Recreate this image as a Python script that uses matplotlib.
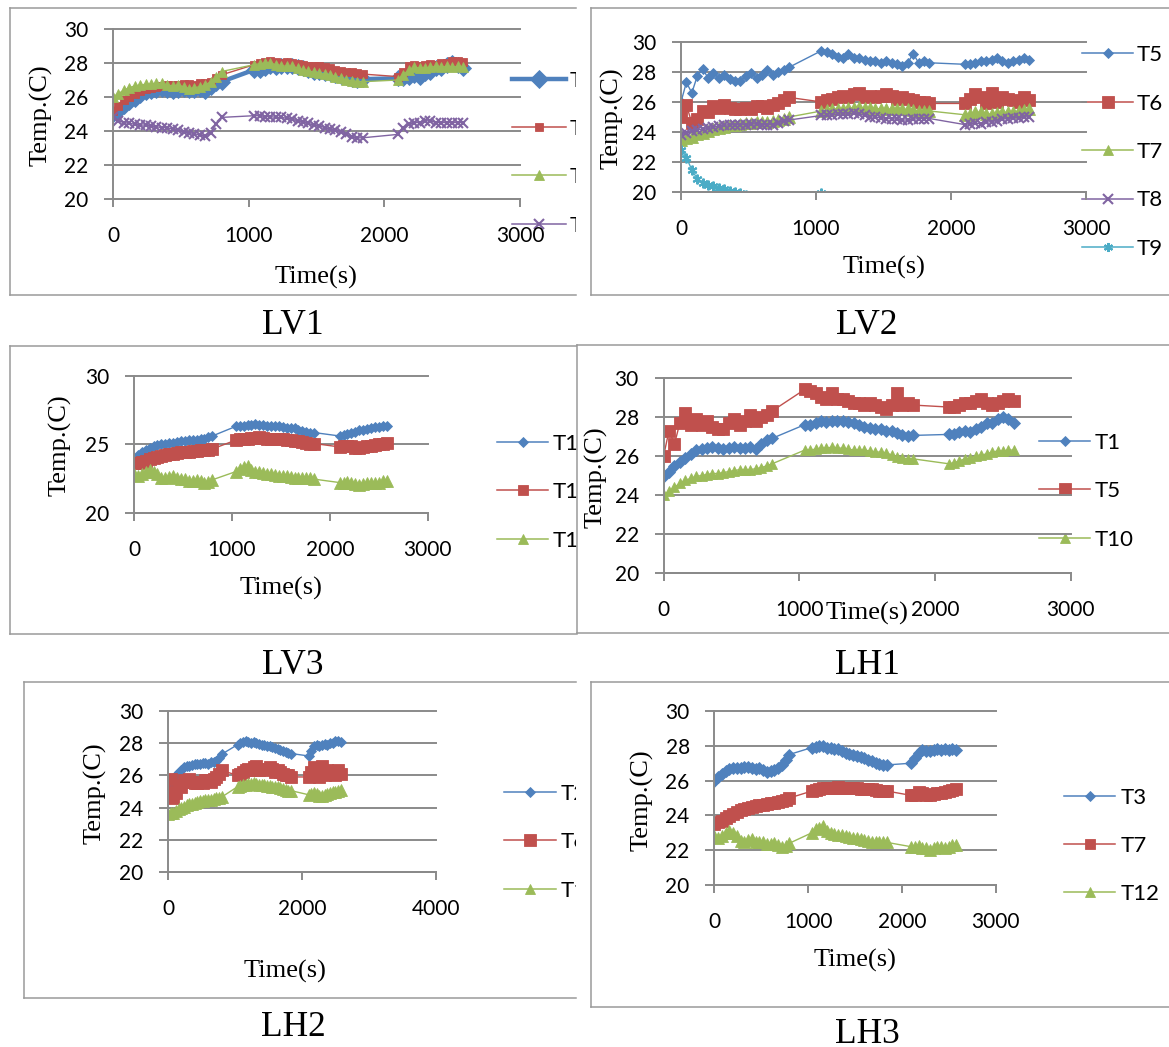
import matplotlib
matplotlib.use("Agg")
import matplotlib.pyplot as plt
from matplotlib.lines import Line2D

W, H = 1169, 1047

# sampling times shared by every sensor log
time_s = [0, 40, 80, 120, 160, 200, 240, 280, 320, 360, 400, 440, 480, 520, 560, 600, 640, 680, 720, 760, 800,
          1040, 1080, 1120, 1160, 1200, 1240, 1280, 1320, 1360, 1400, 1440, 1480, 1520, 1560, 1600, 1640, 1680,
          1720, 1760, 1800, 1840,
          2100, 2140, 2180, 2220, 2260, 2300, 2340, 2380, 2420, 2460, 2500, 2540, 2580]

T1 = [25.0, 25.2, 25.5, 25.7, 25.9, 26.1, 26.3, 26.35, 26.4, 26.45, 26.4, 26.35, 26.4, 26.45, 26.4, 26.4, 26.45, 26.35, 26.6, 26.8, 26.9,
      27.6, 27.6, 27.7, 27.8, 27.75, 27.8, 27.8, 27.8, 27.75, 27.7, 27.6, 27.5, 27.45, 27.4, 27.4, 27.3, 27.25, 27.15, 27.05, 27.0, 27.05,
      27.1, 27.1, 27.2, 27.3, 27.2, 27.4, 27.5, 27.7, 27.7, 27.9, 28.0, 27.9, 27.7]
T2 = [25.2, 25.5, 25.8, 26.0, 26.2, 26.35, 26.5, 26.55, 26.6, 26.65, 26.7, 26.7, 26.7, 26.75, 26.75, 26.7, 26.8, 26.8, 26.9, 27.1, 27.3,
      27.9, 28.0, 28.05, 28.1, 28.05, 28.0, 28.05, 28.0, 27.95, 27.9, 27.85, 27.8, 27.8, 27.75, 27.7, 27.6, 27.55, 27.5, 27.45, 27.4, 27.35,
      27.2, 27.5, 27.8, 27.9, 27.8, 27.9, 27.95, 27.9, 28.0, 28.0, 28.1, 28.1, 28.05]
T3 = [26.0, 26.2, 26.4, 26.55, 26.65, 26.7, 26.75, 26.75, 26.8, 26.8, 26.7, 26.65, 26.7, 26.6, 26.5, 26.55, 26.6, 26.7, 26.9, 27.2, 27.5,
      27.9, 27.95, 28.0, 28.0, 27.9, 27.85, 27.8, 27.8, 27.7, 27.6, 27.55, 27.45, 27.4, 27.35, 27.3, 27.2, 27.1, 27.0, 26.95, 26.9, 26.9,
      27.0, 27.3, 27.6, 27.75, 27.7, 27.7, 27.75, 27.8, 27.75, 27.8, 27.75, 27.8, 27.75]
T4 = [24.8, 24.6, 24.5, 24.45, 24.4, 24.35, 24.35, 24.3, 24.25, 24.2, 24.2, 24.1, 24.05, 23.95, 23.9, 23.85, 23.75, 23.7, 23.9, 24.4, 24.8,
      24.9, 24.9, 24.85, 24.85, 24.8, 24.8, 24.75, 24.7, 24.6, 24.55, 24.45, 24.35, 24.3, 24.2, 24.1, 24.05, 23.95, 23.8, 23.65, 23.6, 23.6,
      23.8, 24.2, 24.4, 24.5, 24.5, 24.6, 24.6, 24.5, 24.5, 24.5, 24.5, 24.5, 24.5]
T5 = [26.0, 27.3, 26.6, 27.7, 28.2, 27.6, 27.9, 27.6, 27.8, 27.5, 27.4, 27.4, 27.7, 27.9, 27.6, 27.8, 28.1, 27.8, 28.0, 28.1, 28.3,
      29.4, 29.3, 29.2, 29.0, 28.9, 29.2, 28.9, 28.9, 28.8, 28.7, 28.7, 28.6, 28.7, 28.6, 28.5, 28.4, 28.6, 29.2, 28.6, 28.7, 28.6,
      28.5, 28.5, 28.6, 28.7, 28.7, 28.8, 28.9, 28.7, 28.6, 28.7, 28.8, 28.9, 28.8]
T6 = [25.0, 25.8, 24.6, 24.9, 25.4, 25.3, 25.7, 25.6, 25.8, 25.6, 25.5, 25.5, 25.6, 25.5, 25.7, 25.7, 25.6, 25.8, 25.9, 26.1, 26.3,
      26.0, 26.1, 26.2, 26.3, 26.4, 26.3, 26.5, 26.6, 26.3, 26.4, 26.3, 26.4, 26.5, 26.4, 26.2, 26.3, 26.2, 26.1, 26.0, 26.0, 25.9,
      25.9, 26.2, 26.5, 26.3, 25.9, 26.6, 26.0, 26.3, 26.2, 26.1, 26.0, 26.3, 26.1]
T7 = [23.5, 23.6, 23.7, 23.85, 23.95, 24.1, 24.2, 24.3, 24.35, 24.45, 24.5, 24.55, 24.6, 24.6, 24.65, 24.7, 24.7, 24.75, 24.8, 24.9, 25.0,
      25.4, 25.45, 25.5, 25.55, 25.55, 25.6, 25.6, 25.65, 25.6, 25.6, 25.55, 25.55, 25.55, 25.5, 25.5, 25.5, 25.5, 25.45, 25.4, 25.4, 25.4,
      25.15, 25.2, 25.35, 25.3, 25.2, 25.2, 25.25, 25.3, 25.3, 25.35, 25.4, 25.45, 25.5]
T8 = [23.8, 23.95, 24.05, 24.15, 24.2, 24.3, 24.35, 24.4, 24.45, 24.5, 24.5, 24.5, 24.5, 24.55, 24.55, 24.5, 24.5, 24.5, 24.6, 24.75, 24.8,
      25.1, 25.1, 25.15, 25.2, 25.2, 25.2, 25.25, 25.2, 25.1, 25.0, 25.0, 24.95, 24.9, 24.9, 24.85, 24.8, 24.8, 24.85, 24.9, 24.9, 24.9,
      24.5, 24.55, 24.6, 24.55, 24.65, 24.7, 24.75, 24.85, 24.9, 24.95, 24.95, 25.0, 25.0]
T9 = [22.8, 22.3, 21.5, 20.9, 20.6, 20.5, 20.4, 20.3, 20.2, 20.1, 20.0, 19.95, 19.85, 19.7, 19.6, 19.5, 19.4, 19.3, 19.2, 19.1, 19.0,
      19.93, 19.6, 19.4, 19.3, 19.2, 19.1, 19.0, 19.0, 18.9, 18.9, 18.8, 18.8, 18.7, 18.7, 18.6, 18.6, 18.5, 18.5, 18.4, 18.4, 18.4,
      18.3, 18.3, 18.3, 18.3, 18.3, 18.3, 18.3, 18.3, 18.3, 18.3, 18.3, 18.3, 18.3]
T10 = [24.0, 24.2, 24.4, 24.6, 24.75, 24.85, 24.95, 25.0, 25.05, 25.1, 25.1, 25.15, 25.2, 25.25, 25.3, 25.3, 25.3, 25.35, 25.4, 25.5, 25.6,
       26.3, 26.3, 26.35, 26.4, 26.4, 26.45, 26.4, 26.4, 26.35, 26.3, 26.3, 26.3, 26.25, 26.2, 26.2, 26.15, 26.05, 25.95, 25.9, 25.85, 25.85,
       25.6, 25.65, 25.75, 25.85, 25.9, 26.0, 26.05, 26.1, 26.2, 26.25, 26.25, 26.3, 26.3]
T11 = [23.6, 23.65, 23.7, 23.8, 23.9, 24.0, 24.05, 24.15, 24.2, 24.25, 24.3, 24.35, 24.4, 24.4, 24.45, 24.5, 24.5, 24.55, 24.6, 24.6, 24.65,
       25.3, 25.35, 25.4, 25.4, 25.45, 25.45, 25.5, 25.45, 25.4, 25.4, 25.4, 25.35, 25.35, 25.3, 25.3, 25.25, 25.2, 25.15, 25.1, 25.05, 25.05,
       24.8, 24.85, 24.9, 24.85, 24.75, 24.7, 24.8, 24.85, 24.9, 24.95, 25.0, 25.05, 25.1]
T12 = [22.8, 22.7, 22.8, 23.0, 23.1, 23.0, 22.8, 22.55, 22.5, 22.6, 22.65, 22.5, 22.45, 22.45, 22.35, 22.35, 22.4, 22.3, 22.2, 22.25, 22.4,
       23.0, 23.2, 23.3, 23.4, 23.1, 23.0, 22.95, 22.9, 22.85, 22.8, 22.75, 22.7, 22.7, 22.65, 22.6, 22.55, 22.5, 22.5, 22.5, 22.5, 22.45,
       22.2, 22.2, 22.25, 22.15, 22.1, 22.0, 22.1, 22.2, 22.2, 22.15, 22.2, 22.3, 22.3]

SENSORS = {"T1": T1, "T2": T2, "T3": T3, "T4": T4, "T5": T5, "T6": T6,
           "T7": T7, "T8": T8, "T9": T9, "T10": T10, "T11": T11, "T12": T12}

panel_names = ["LV1", "LV2", "LV3", "LH1", "LH2", "LH3"]
panel_sensors = [["T1", "T2", "T3", "T4"],
                 ["T5", "T6", "T7", "T8", "T9"],
                 ["T10", "T11", "T12"],
                 ["T1", "T5", "T10"],
                 ["T2", "T6", "T11"],
                 ["T3", "T7", "T12"]]
panel_xticks = [[0, 1000, 2000, 3000]] * 4 + [[0, 2000, 4000], [0, 1000, 2000, 3000]]
panel_yticks = [[20, 22, 24, 26, 28, 30], [20, 22, 24, 26, 28, 30], [20, 25, 30],
                [20, 22, 24, 26, 28, 30], [20, 22, 24, 26, 28, 30], [20, 22, 24, 26, 28, 30]]

# layout in image pixels (x from left, y from top)
LAYOUT = [
    dict(frame=(10, 8, 576, 295), plot=(113, 29, 520, 199), xlab=(316, 277), ylab=(41, 115),
         title=(293, 322), leg=(512, 566, 570, 79, 48.2), ms=[8, 6, 7.5, 7.5], lw=[3.2, 1.0, 1.0, 1.0],
         legms=[9.5, 6, 7, 7]),
    dict(frame=(591, 8, 1169, 295), plot=(681, 41.7, 1086, 192.3), xlab=(884, 267), ylab=(612, 118),
         title=(867, 322), leg=(1082, 1133, 1137, 53, 48.5), ms=[5.5, 8.5, 8, 7, 7], lw=[1.0] * 5,
         legms=[5, 8, 7.5, 6.5, 6.5]),
    dict(frame=(10, 346, 577, 634), plot=(134, 375.7, 427.7, 512.7), xlab=(281, 588), ylab=(60, 445),
         title=(293, 661), leg=(497, 548, 553, 441.7, 48.7), ms=[5.5, 8, 8], lw=[1.0] * 3,
         legms=[5, 7.5, 7.5]),
    dict(frame=(577, 345, 1169, 633), plot=(663.6, 377.7, 1070.8, 573.3), xlab=(867, 613), ylab=(596.5, 477),
         title=(867, 661), leg=(1039, 1090, 1095, 440.7, 48.6), ms=[6, 8.5, 7.5], lw=[1.0] * 3,
         legms=[5, 8, 7]),
    dict(frame=(24, 682, 576, 998), plot=(168, 710.7, 435.7, 872.3), xlab=(285, 971), ylab=(95, 793),
         title=(293, 1023), leg=(504, 556, 560.6, 791.7, 48.6), ms=[5.5, 8.5, 8], lw=[1.0] * 3,
         legms=[5, 8, 7.5]),
    dict(frame=(591, 682, 1169, 1007), plot=(714.4, 711, 995.5, 885), xlab=(855, 960), ylab=(642, 800),
         title=(867, 1030.5), leg=(1064, 1115, 1120.5, 796, 48), ms=[6, 8, 8], lw=[1.0] * 3,
         legms=[5, 7.5, 7.5]),
]

BLUE, RED, GREEN, PURPLE, CYAN = "#4F81BD", "#C0504D", "#9BBB59", "#8064A2", "#4BACC6"
SERIES_STYLE = [(BLUE, "D"), (RED, "s"), (GREEN, "^"), (PURPLE, "x"), (CYAN, (6, 2, 0))]
GRID = "#8a8a8a"
FRAME = "#9a9a9a"
SERIF = "Liberation Serif"

plt.rcParams["font.family"] = ["Lato", "DejaVu Sans"]


def px_rect(x0, y0, x1, y1):
    return [x0 / W, 1 - y1 / H, (x1 - x0) / W, (y1 - y0) / H]


def marker_kw(marker, color, ms):
    open_marker = marker == "x" or isinstance(marker, tuple)
    return dict(marker=marker, ms=ms, mfc=color, mec=color, mew=1.5 if open_marker else 0.6)


def draw_panel(fig, name, sensors, xticks, yticks, lay):
    fx0, fy0, fx1, fy1 = lay["frame"]
    bg = fig.add_axes(px_rect(fx0, fy0, fx1, fy1))
    bg.set_xlim(fx0, fx1)
    bg.set_ylim(fy1, fy0)
    bg.set_autoscale_on(False)
    bg.set_xticks([])
    bg.set_yticks([])
    bg.spines["right"].set_visible(False)
    for side in ("left", "top", "bottom"):
        bg.spines[side].set_color(FRAME)
        bg.spines[side].set_linewidth(1.1)

    # legend, clipped by the frame like the pasted original
    lx0, lx1, tx, ly, dy = lay["leg"]
    for i, key in enumerate(sensors):
        color, marker = SERIES_STYLE[i]
        y = ly + i * dy
        bg.add_line(Line2D([lx0, lx1], [y, y], color=color, lw=max(lay["lw"][i], 1.1)))
        bg.add_line(Line2D([(lx0 + lx1) / 2], [y], ls="none", **marker_kw(marker, color, lay["legms"][i])))
        bg.text(tx, y, key, fontsize=16, ha="left", va="center_baseline", clip_on=True)

    bg.text(*lay["xlab"], "Time(s)", family=SERIF, fontsize=19, ha="center", va="center")
    bg.text(*lay["ylab"], "Temp.(C)", family=SERIF, fontsize=19, ha="center", va="center", rotation=90)
    bg.text(*lay["title"], name, family=SERIF, fontsize=25.5, ha="center", va="center_baseline")

    px0, py_top, px1, py_bot = lay["plot"]
    ax = fig.add_axes(px_rect(px0, py_top, px1, py_bot))
    ax.patch.set_alpha(0)
    for i, key in enumerate(sensors):
        color, marker = SERIES_STYLE[i]
        ax.plot(time_s, SENSORS[key], color=color, lw=lay["lw"][i], **marker_kw(marker, color, lay["ms"][i]))
    ax.set_xlim(xticks[0], xticks[-1])
    ax.set_ylim(yticks[0], yticks[-1])
    ax.set_xticks(xticks)
    ax.set_yticks(yticks)
    for side in ("top", "right"):
        ax.spines[side].set_visible(False)
    for side in ("left", "bottom"):
        ax.spines[side].set_color(GRID)
        ax.spines[side].set_linewidth(1.4)
    ax.grid(axis="y", color=GRID, lw=1.4)
    ax.set_axisbelow(True)
    for gl in ax.get_ygridlines():
        gl.set_clip_on(False)
    ax.tick_params(axis="y", direction="out", length=6.3, width=1.4, color=GRID, pad=11.5, labelsize=15)
    ax.tick_params(axis="x", direction="out", length=5.5, width=1.4, color=GRID, pad=14, labelsize=15)
    return ax


fig = plt.figure(figsize=(W / 100, H / 100), dpi=100)
for name, sensors, xt, yt, lay in zip(panel_names, panel_sensors, panel_xticks, panel_yticks, LAYOUT):
    draw_panel(fig, name, sensors, xt, yt, lay)
fig.savefig("out.png", dpi=100, facecolor="white")
